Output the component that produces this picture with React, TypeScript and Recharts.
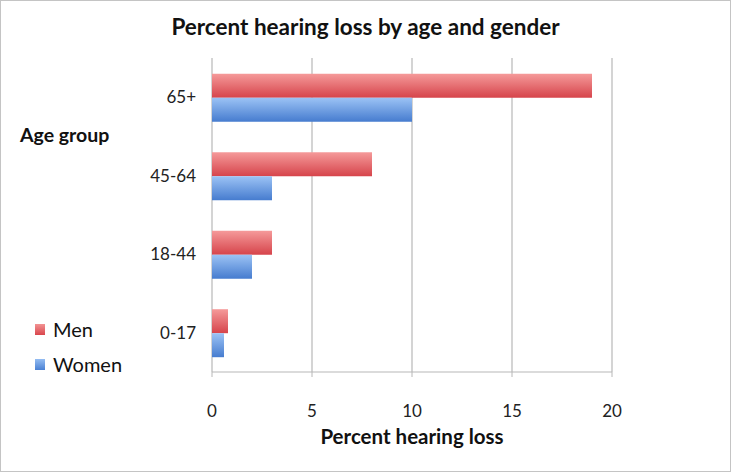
import { BarChart, Bar, XAxis, YAxis, CartesianGrid } from 'recharts';

// ---------------------------------------------------------------------------
// Data
// ---------------------------------------------------------------------------

const AGE_GROUPS = ['65+', '45-64', '18-44', '0-17'];
const MEN = [19, 8, 3, 0.8];
const WOMEN = [10, 3, 2, 0.6];
const X_TICKS = [0, 5, 10, 15, 20];

const FONT = 'Lato, "Open Sans", "Noto Sans", sans-serif';

const chartData = AGE_GROUPS.map((group, i) => ({
  group,
  men: MEN[i],
  women: WOMEN[i],
}));

const LEGEND = [
  { label: 'Men', top: '#f29393', bottom: '#d9464c' },
  { label: 'Women', top: '#94bdf2', bottom: '#4a80d3' },
];

export default function App() {
  return (
    <div
      style={{
        position: 'relative',
        width: 731,
        height: 472,
        background: '#fff',
        fontFamily: FONT,
      }}
    >
      <style>{'body{margin:0}'}</style>
      <BarChart
        width={731}
        height={472}
        data={chartData}
        layout="vertical"
        margin={{ top: 58, right: 119, bottom: 70, left: 152 }}
        barCategoryGap="20%"
        barGap={0}
      >
        <defs>
          <linearGradient id="menFill" x1="0" y1="0" x2="0" y2="1">
            <stop offset="0%" stopColor="#f59a9a" />
            <stop offset="100%" stopColor="#d6444b" />
          </linearGradient>
          <linearGradient id="womenFill" x1="0" y1="0" x2="0" y2="1">
            <stop offset="0%" stopColor="#9cc3f5" />
            <stop offset="100%" stopColor="#467ccf" />
          </linearGradient>
        </defs>
        <CartesianGrid horizontal={false} stroke="#b8b8b8" strokeWidth={1.2} />
        <XAxis
          type="number"
          domain={[0, 20]}
          ticks={X_TICKS}
          interval={0}
          height={30}
          axisLine={{ stroke: '#b8b8b8', strokeWidth: 1.2 }}
          tickLine={{ stroke: '#b8b8b8' }}
          tickSize={5}
          tickMargin={28}
          tick={{ fill: '#222', fontSize: 17, fontFamily: FONT }}
        />
        <YAxis
          type="category"
          dataKey="group"
          width={60}
          axisLine={false}
          tickLine={false}
          tickMargin={10}
          tick={{ fill: '#222', fontSize: 17, fontFamily: FONT }}
        />
        <Bar dataKey="men" fill="url(#menFill)" isAnimationActive={false} />
        <Bar dataKey="women" fill="url(#womenFill)" isAnimationActive={false} />
      </BarChart>

      {/* Title */}
      <div
        style={{
          position: 'absolute',
          left: 0,
          top: 13,
          width: 731,
          textAlign: 'center',
          fontSize: 22.5,
          fontWeight: 700,
          color: '#111',
        }}
      >
        Percent hearing loss by age and gender
      </div>

      {/* Y axis title */}
      <div
        style={{
          position: 'absolute',
          left: 20,
          top: 123,
          fontSize: 19.5,
          fontWeight: 700,
          color: '#111',
        }}
      >
        Age group
      </div>

      {/* X axis title */}
      <div
        style={{
          position: 'absolute',
          left: 212,
          top: 424,
          width: 400,
          textAlign: 'center',
          fontSize: 20.5,
          fontWeight: 700,
          color: '#111',
        }}
      >
        Percent hearing loss
      </div>

      {/* Legend */}
      {LEGEND.map((item, i) => (
        <div
          key={item.label}
          style={{
            position: 'absolute',
            left: 35,
            top: 317 + i * 35,
            display: 'flex',
            alignItems: 'center',
            fontSize: 20,
            color: '#111',
          }}
        >
          <span
            style={{
              display: 'inline-block',
              width: 10,
              height: 11,
              marginRight: 8,
              background: `linear-gradient(${item.top}, ${item.bottom})`,
            }}
          />
          {item.label}
        </div>
      ))}

      {/* Outer frame */}
      <div
        style={{
          position: 'absolute',
          inset: 0,
          border: '1.5px solid #c4c4c4',
          pointerEvents: 'none',
        }}
      />
    </div>
  );
}
